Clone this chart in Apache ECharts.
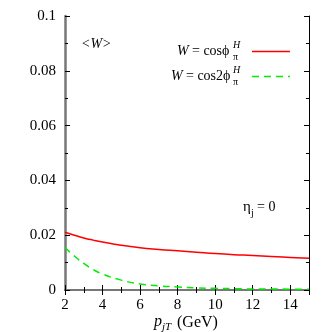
<!DOCTYPE html>
<html>
<head>
<meta charset="utf-8">
<title>W asymmetry</title>
<script src="https://cdn.jsdelivr.net/npm/echarts@6/dist/echarts.min.js"></script>
<style>
  html, body { margin: 0; padding: 0; background: #fff; }
  #main { width: 332px; height: 332px; }
</style>
</head>
<body>
<div id="main"></div>
<script>
// values
var pT = [2, 2.5, 3, 3.5, 4, 5, 6, 7, 8, 9, 10, 11, 12, 13, 14, 15];
var cosPhi = [0.0211, 0.0200, 0.0190, 0.0182, 0.0175, 0.0163, 0.0154, 0.0148, 0.0143, 0.0138, 0.0133, 0.0129, 0.0126, 0.0122, 0.0119, 0.0116];
var cos2Phi = [0.0155, 0.0124, 0.0097, 0.0075, 0.0058, 0.0036, 0.0022, 0.0015, 0.0011, 0.0008, 0.0006, 0.0005, 0.0004, 0.0004, 0.0003, 0.0003];
var yTicks = ['0', '0.02', '0.04', '0.06', '0.08', '0.1'];

var serif = '"Liberation Serif", "DejaVu Serif", serif';

function pairs(ys) {
  var out = [];
  for (var i = 0; i < pT.length; i++) out.push([pT[i], ys[i]]);
  return out;
}

// small helper for plain text pieces of the labels
function txt(x, y, s, font) {
  return { type: 'text', x: x, y: y, style: { text: s, font: font + serif, fill: '#000', textVerticalAlign: 'middle' } };
}

var chart = echarts.init(document.getElementById('main'));

var tickStyle = { show: true, inside: true, length: 5, lineStyle: { color: '#000', width: 1 } };
var minorStyle = { show: true, splitNumber: 2, length: 3, lineStyle: { color: '#000', width: 1 } };

var option = {
  animation: false,
  grid: { left: 65, right: 23, top: 16, bottom: 42 },
  xAxis: [{
    type: 'value', min: 2, max: 15, interval: 2,
    axisLine: { lineStyle: { color: '#000', width: 1.5 } },
    axisTick: tickStyle,
    minorTick: minorStyle,
    splitLine: { show: false },
    axisLabel: {
      color: '#000', fontFamily: serif, fontSize: 15, margin: 8,
      formatter: function (v) { return v > 14 ? '' : String(v); }
    }
  }, {
    type: 'value', position: 'top', min: 2, max: 15, interval: 2,
    axisLine: { lineStyle: { color: '#777', width: 2 } },
    axisTick: tickStyle, minorTick: minorStyle,
    splitLine: { show: false }, axisLabel: { show: false }
  }],
  yAxis: [{
    type: 'value', min: 0, max: 0.1, interval: 0.02,
    axisLine: { show: true, lineStyle: { color: '#777', width: 2.5 } },
    axisTick: tickStyle,
    minorTick: minorStyle,
    splitLine: { show: false },
    axisLabel: {
      color: '#000', fontFamily: serif, fontSize: 15, margin: 9,
      formatter: function (v) { return yTicks[Math.round(v / 0.02)]; }
    }
  }, {
    type: 'value', position: 'right', min: 0, max: 0.1, interval: 0.02,
    axisLine: { show: true, lineStyle: { color: '#000', width: 1 } },
    axisTick: tickStyle, minorTick: minorStyle,
    splitLine: { show: false }, axisLabel: { show: false }
  }],
  series: [{
    name: 'cos', type: 'line', smooth: true, showSymbol: false,
    data: pairs(cosPhi),
    lineStyle: { color: '#ff0000', width: 1.5 }
  }, {
    name: 'cos2', type: 'line', smooth: true, showSymbol: false,
    data: pairs(cos2Phi),
    lineStyle: { color: '#00ee00', width: 1.5, type: [7, 5] }
  }],
  graphic: [
    // <W>
    txt(81, 44, '<W>', 'italic 14px '),
    // legend entry 1
    { type: 'group', children: [
      txt(177, 51, 'W', 'italic 14px '),
      txt(192, 51, '= cosϕ', '14px '),
      txt(233, 45, 'H', 'italic 10px '),
      txt(233, 57, 'π', '10px '),
      { type: 'line', shape: { x1: 252, y1: 51.5, x2: 290, y2: 51.5 }, style: { stroke: '#ff0000', lineWidth: 1.5 } }
    ] },
    // legend entry 2
    { type: 'group', children: [
      txt(171, 76, 'W', 'italic 14px '),
      txt(186, 76, '= cos2ϕ', '14px '),
      txt(233, 70, 'H', 'italic 10px '),
      txt(233, 82, 'π', '10px '),
      { type: 'line', shape: { x1: 252, y1: 76.5, x2: 290, y2: 76.5 }, style: { stroke: '#00ee00', lineWidth: 1.5, lineDash: [7, 5] } }
    ] },
    // eta_j = 0
    { type: 'group', children: [
      txt(243, 207, 'η', '15px '),
      txt(251, 213, 'j', '10px '),
      txt(257, 207, '= 0', '14px ')
    ] },
    // x axis title
    { type: 'group', children: [
      txt(154, 322, 'p', 'italic 16px '),
      txt(162, 327, 'jT', 'italic 11px '),
      txt(177, 323, '(GeV)', '16px ')
    ] }
  ]
};

chart.setOption(option);
</script>
</body>
</html>
